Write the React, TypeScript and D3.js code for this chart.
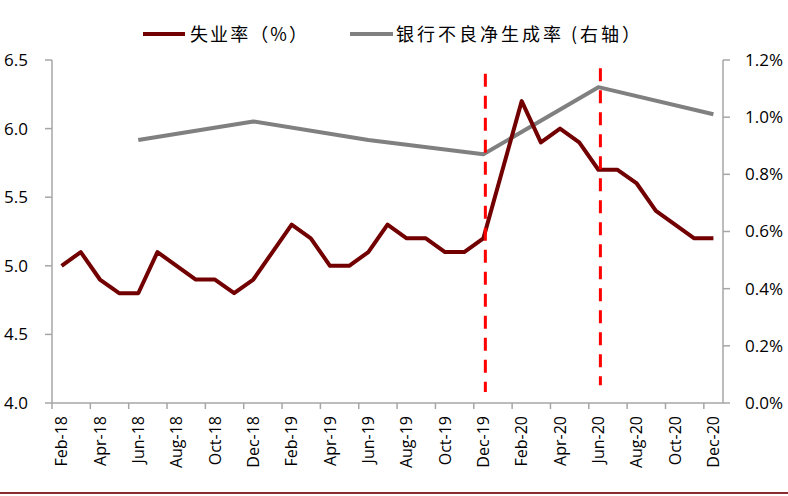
import React from "react";
import * as d3 from "d3";

const months = [
  "Feb-18","Mar-18","Apr-18","May-18","Jun-18","Jul-18","Aug-18","Sep-18","Oct-18","Nov-18","Dec-18",
  "Jan-19","Feb-19","Mar-19","Apr-19","May-19","Jun-19","Jul-19","Aug-19","Sep-19","Oct-19","Nov-19","Dec-19",
  "Jan-20","Feb-20","Mar-20","Apr-20","May-20","Jun-20","Jul-20","Aug-20","Sep-20","Oct-20","Nov-20","Dec-20",
];
const unemployment = [
  5.0, 5.1, 4.9, 4.8, 4.8, 5.1, 5.0, 4.9, 4.9, 4.8, 4.9,
  5.1, 5.3, 5.2, 5.0, 5.0, 5.1, 5.3, 5.2, 5.2, 5.1, 5.1, 5.2,
  5.7, 6.2, 5.9, 6.0, 5.9, 5.7, 5.7, 5.6, 5.4, 5.3, 5.2, 5.2,
];
const nplMonths = ["Jun-18", "Dec-18", "Jun-19", "Dec-19", "Jun-20", "Dec-20"];
const nplValues = [0.92, 0.985, 0.92, 0.87, 1.105, 1.01];

const leftTicks = [4.0, 4.5, 5.0, 5.5, 6.0, 6.5];
const rightTicks = [0, 0.2, 0.4, 0.6, 0.8, 1.0, 1.2];
const markerMonths = ["Dec-19", "Jun-20"];
const markerTops = [6.4, 6.44];
const markerBottoms = [4.08, 4.13];

const seriesNames = ["失业率（%）", "银行不良净生成率 (右轴）"];

const W = 788;
const H = 496;
const left = 52;
const right = 723;
const top = 60;
const bottom = 403;

const RED = "#720000";
const GRAY = "#808080";
const AXIS = "#a6a6a6";
const FONT = "'Open Sans', 'Noto Sans', sans-serif";
const CJK = "'Noto Sans CJK SC', sans-serif";

export default function App() {
  const x = d3.scaleBand<string>().domain(months).range([left, right]).padding(0);
  const bw = x.bandwidth();
  const cx = (m: string) => (x(m) as number) + bw / 2;
  const yL = d3.scaleLinear().domain([4, 6.5]).range([bottom, top]);
  const yR = d3.scaleLinear().domain([0, 1.2]).range([bottom, top]);

  const unempLine = d3
    .line<number>()
    .x((_, i) => cx(months[i]))
    .y((d) => yL(d))(unemployment) as string;

  const nplLine = d3
    .line<number>()
    .x((_, i) => cx(nplMonths[i]))
    .y((d) => yR(d))(nplValues) as string;

  const evenIdx = months.map((_, i) => i).filter((i) => i % 2 === 0);

  return (
    <svg
      width={W}
      height={H}
      style={{ position: "absolute", left: 0, top: 0, display: "block", background: "#fff" }}
    >
      {/* left axis */}
      <line x1={left} x2={left} y1={top} y2={bottom} stroke={AXIS} strokeWidth={1.5} />
      {leftTicks.map((t) => (
        <g key={"l" + t}>
          <line x1={left - 7} x2={left} y1={yL(t)} y2={yL(t)} stroke={AXIS} strokeWidth={1.5} />
          <text
            x={28}
            y={yL(t)}
            dy="0.35em"
            textAnchor="end"
            fontFamily={FONT}
            fontSize={17}
            fill="#000"
          >
            {t.toFixed(1)}
          </text>
        </g>
      ))}
      {/* right axis */}
      <line x1={right} x2={right} y1={top} y2={bottom} stroke={AXIS} strokeWidth={1.5} />
      {rightTicks.map((t) => (
        <g key={"r" + t}>
          <line x1={right} x2={right + 7} y1={yR(t)} y2={yR(t)} stroke={AXIS} strokeWidth={1.5} />
          <text
            x={745}
            y={yR(t)}
            dy="0.35em"
            textAnchor="start"
            fontFamily={FONT}
            fontSize={17}
            fill="#000"
          >
            {t.toFixed(1) + "%"}
          </text>
        </g>
      ))}
      {/* x axis */}
      <line x1={left} x2={right} y1={bottom} y2={bottom} stroke={AXIS} strokeWidth={1.5} />
      {evenIdx.map((i) => (
        <g key={"x" + i}>
          <line
            x1={x(months[i]) as number}
            x2={x(months[i]) as number}
            y1={bottom}
            y2={bottom + 6}
            stroke={AXIS}
            strokeWidth={1.5}
          />
          <text
            transform={`translate(${cx(months[i])},${416}) rotate(-90)`}
            dy="0.35em"
            textAnchor="end"
            fontFamily={FONT}
            fontSize={16}
            fill="#000"
          >
            {months[i]}
          </text>
        </g>
      ))}

      {/* series */}
      <path d={nplLine} fill="none" stroke={GRAY} strokeWidth={4} strokeLinejoin="round" />
      <path d={unempLine} fill="none" stroke={RED} strokeWidth={4} strokeLinejoin="round" />

      {/* marker dashed lines */}
      {markerMonths.map((m, i) => (
        <line
          key={"m" + m}
          x1={cx(m) + 2}
          x2={cx(m) + 2}
          y1={yL(markerTops[i])}
          y2={yL(markerBottoms[i])}
          stroke="#ff0000"
          strokeWidth={3}
          strokeDasharray="13,9"
        />
      ))}

      {/* legend */}
      <line x1={143} x2={185} y1={34} y2={34} stroke={RED} strokeWidth={4} />
      <text x={190} y={41} fontFamily={CJK} fontSize={18} fill="#000" textLength={117} lengthAdjust="spacing">
        {seriesNames[0]}
      </text>
      <line x1={350} x2={393} y1={34} y2={34} stroke={GRAY} strokeWidth={4} />
      <text x={396} y={41} fontFamily={CJK} fontSize={18} fill="#000" textLength={244} lengthAdjust="spacing">
        {seriesNames[1]}
      </text>

      {/* bottom rule */}
      <line x1={0} x2={W} y1={493} y2={493} stroke="#8c2a33" strokeWidth={2} />
    </svg>
  );
}
